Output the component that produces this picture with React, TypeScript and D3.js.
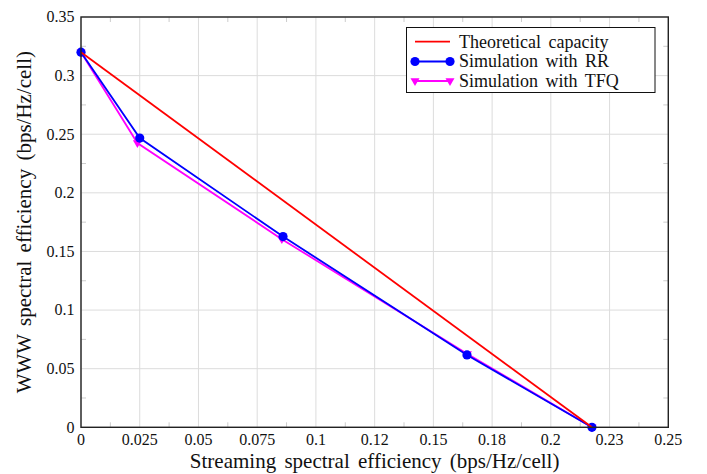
import React from "react";
import * as d3 from "d3";

const W = 707;
const H = 474;

const xTicks = [0, 0.025, 0.05, 0.075, 0.1, 0.125, 0.15, 0.175, 0.2, 0.225, 0.25];
const xTickLabels = ["0", "0.025", "0.05", "0.075", "0.1", "0.12", "0.15", "0.18", "0.2", "0.23", "0.25"];
const yTicks = [0, 0.05, 0.1, 0.15, 0.2, 0.25, 0.3, 0.35];
const yTickLabels = ["0", "0.05", "0.1", "0.15", "0.2", "0.25", "0.3", "0.35"];

const theoX = [0, 0.2175];
const theoY = [0.32, 0];
const rrX = [0, 0.025, 0.086, 0.1643, 0.2175];
const rrY = [0.32, 0.2467, 0.1627, 0.0617, 0];
const tfqX = [0, 0.024, 0.0855, 0.1645, 0.2175];
const tfqY = [0.32, 0.2425, 0.1605, 0.0625, 0];

const seriesNames = ["Theoretical capacity", "Simulation with RR", "Simulation with TFQ"];
const seriesColors = ["#ff0000", "#0000ff", "#ff00ff"];

const margin = { left: 81, right: W - 668.3, top: 17, bottom: H - 427.3 };

export default function App() {
  const x = d3.scaleLinear().domain([0, 0.25]).range([margin.left, W - margin.right]);
  const y = d3.scaleLinear().domain([0, 0.35]).range([H - margin.bottom, margin.top]);
  const line = d3
    .line<[number, number]>()
    .x((d) => x(d[0]))
    .y((d) => y(d[1]));
  const zip = (a: number[], b: number[]) => a.map((v, i) => [v, b[i]] as [number, number]);
  const theo = zip(theoX, theoY);
  const rr = zip(rrX, rrY);
  const tfq = zip(tfqX, tfqY);

  const xMinor = d3.range(0, 10).map((i) => 0.0125 + i * 0.025);
  const yMinor = d3.range(0, 7).map((i) => 0.025 + i * 0.05);
  const x0 = x(0), x1 = x(0.25), y0 = y(0), y1 = y(0.35);
  const tri = (cx: number, cy: number, s: number) =>
    `M${cx - s},${cy - s * 0.6} L${cx + s},${cy - s * 0.6} L${cx},${cy + s * 1.1} Z`;
  const font = "'Liberation Serif', 'Times New Roman', serif";
  const lw0 = 1.8;

  const lx = 406.5, ly = 27.5, lw = 248.5, lh = 65;
  const rowY = [41.7, 61.5, 81];

  return (
    <svg width={W} height={H} style={{ position: "absolute", left: 0, top: 0, background: "#fff", fontFamily: font }}>
      <rect x={0} y={0} width={W} height={H} fill="#fff" />
      {/* grid */}
      {xTicks.map((t, i) => (
        <line key={"gx" + i} x1={x(t)} x2={x(t)} y1={y0} y2={y1} stroke="#dcdcdc" strokeWidth={1} />
      ))}
      {yTicks.map((t, i) => (
        <line key={"gy" + i} x1={x0} x2={x1} y1={y(t)} y2={y(t)} stroke="#dcdcdc" strokeWidth={1} />
      ))}
      {/* minor ticks */}
      {xMinor.map((t, i) => (
        <g key={"mx" + i}>
          <line x1={x(t)} x2={x(t)} y1={y0} y2={y0 - 5} stroke="#ccc" strokeWidth={1} />
          <line x1={x(t)} x2={x(t)} y1={y1} y2={y1 + 5} stroke="#ccc" strokeWidth={1} />
        </g>
      ))}
      {yMinor.map((t, i) => (
        <g key={"my" + i}>
          <line x1={x0} x2={x0 + 5} y1={y(t)} y2={y(t)} stroke="#ccc" strokeWidth={1} />
          <line x1={x1} x2={x1 - 5} y1={y(t)} y2={y(t)} stroke="#ccc" strokeWidth={1} />
        </g>
      ))}
      {/* series */}
      <path d={line(tfq) || ""} fill="none" stroke={seriesColors[2]} strokeWidth={lw0} />
      {tfq.map((d, i) => (
        <path key={"t" + i} d={tri(x(d[0]), y(d[1]), 4.5)} fill={seriesColors[2]} />
      ))}
      <path d={line(rr) || ""} fill="none" stroke={seriesColors[1]} strokeWidth={lw0} />
      {rr.map((d, i) => (
        <circle key={"r" + i} cx={x(d[0])} cy={y(d[1])} r={4.6} fill={seriesColors[1]} />
      ))}
      <path d={line(theo) || ""} fill="none" stroke={seriesColors[0]} strokeWidth={lw0} />
      {/* axes box */}
      <rect x={x0} y={y1} width={x1 - x0} height={y0 - y1} fill="none" stroke="#222" strokeWidth={1.4} />
      {/* tick labels */}
      {xTicks.map((t, i) => (
        <text key={"xl" + i} x={x(t)} y={445} textAnchor="middle" fontSize={16} fill="#111" fontFamily={font}>
          {xTickLabels[i]}
        </text>
      ))}
      {yTicks.map((t, i) => (
        <text key={"yl" + i} x={74.5} y={y(t)} dy="0.33em" textAnchor="end" fontSize={16} fill="#111" fontFamily={font}>
          {yTickLabels[i]}
        </text>
      ))}
      {/* axis labels */}
      <text x={(x0 + x1) / 2} y={468} textAnchor="middle" fontSize={21} fill="#111" wordSpacing={3} fontFamily={font}>
        Streaming spectral efficiency (bps/Hz/cell)
      </text>
      <text
        transform={`translate(31,${(y0 + y1) / 2}) rotate(-90)`}
        textAnchor="middle"
        fontSize={21}
        fill="#111"
        wordSpacing={3}
        fontFamily={font}
      >
        WWW spectral efficiency (bps/Hz/cell)
      </text>
      {/* legend */}
      <rect x={lx} y={ly} width={lw} height={lh} fill="#fff" stroke="#111" strokeWidth={1} />
      {seriesNames.map((n, i) => (
        <g key={"lg" + i}>
          <line x1={415} x2={450} y1={rowY[i]} y2={rowY[i]} stroke={seriesColors[i]} strokeWidth={lw0} />
          {i === 1 && (
            <>
              <circle cx={415} cy={rowY[i]} r={4.6} fill={seriesColors[1]} />
              <circle cx={450} cy={rowY[i]} r={4.6} fill={seriesColors[1]} />
            </>
          )}
          {i === 2 && (
            <>
              <path d={tri(415, rowY[i], 4.5)} fill={seriesColors[2]} />
              <path d={tri(450, rowY[i], 4.5)} fill={seriesColors[2]} />
            </>
          )}
          <text x={459} y={rowY[i]} dy="0.33em" fontSize={18} fill="#111" wordSpacing={3} fontFamily={font}>
            {n}
          </text>
        </g>
      ))}
    </svg>
  );
}
